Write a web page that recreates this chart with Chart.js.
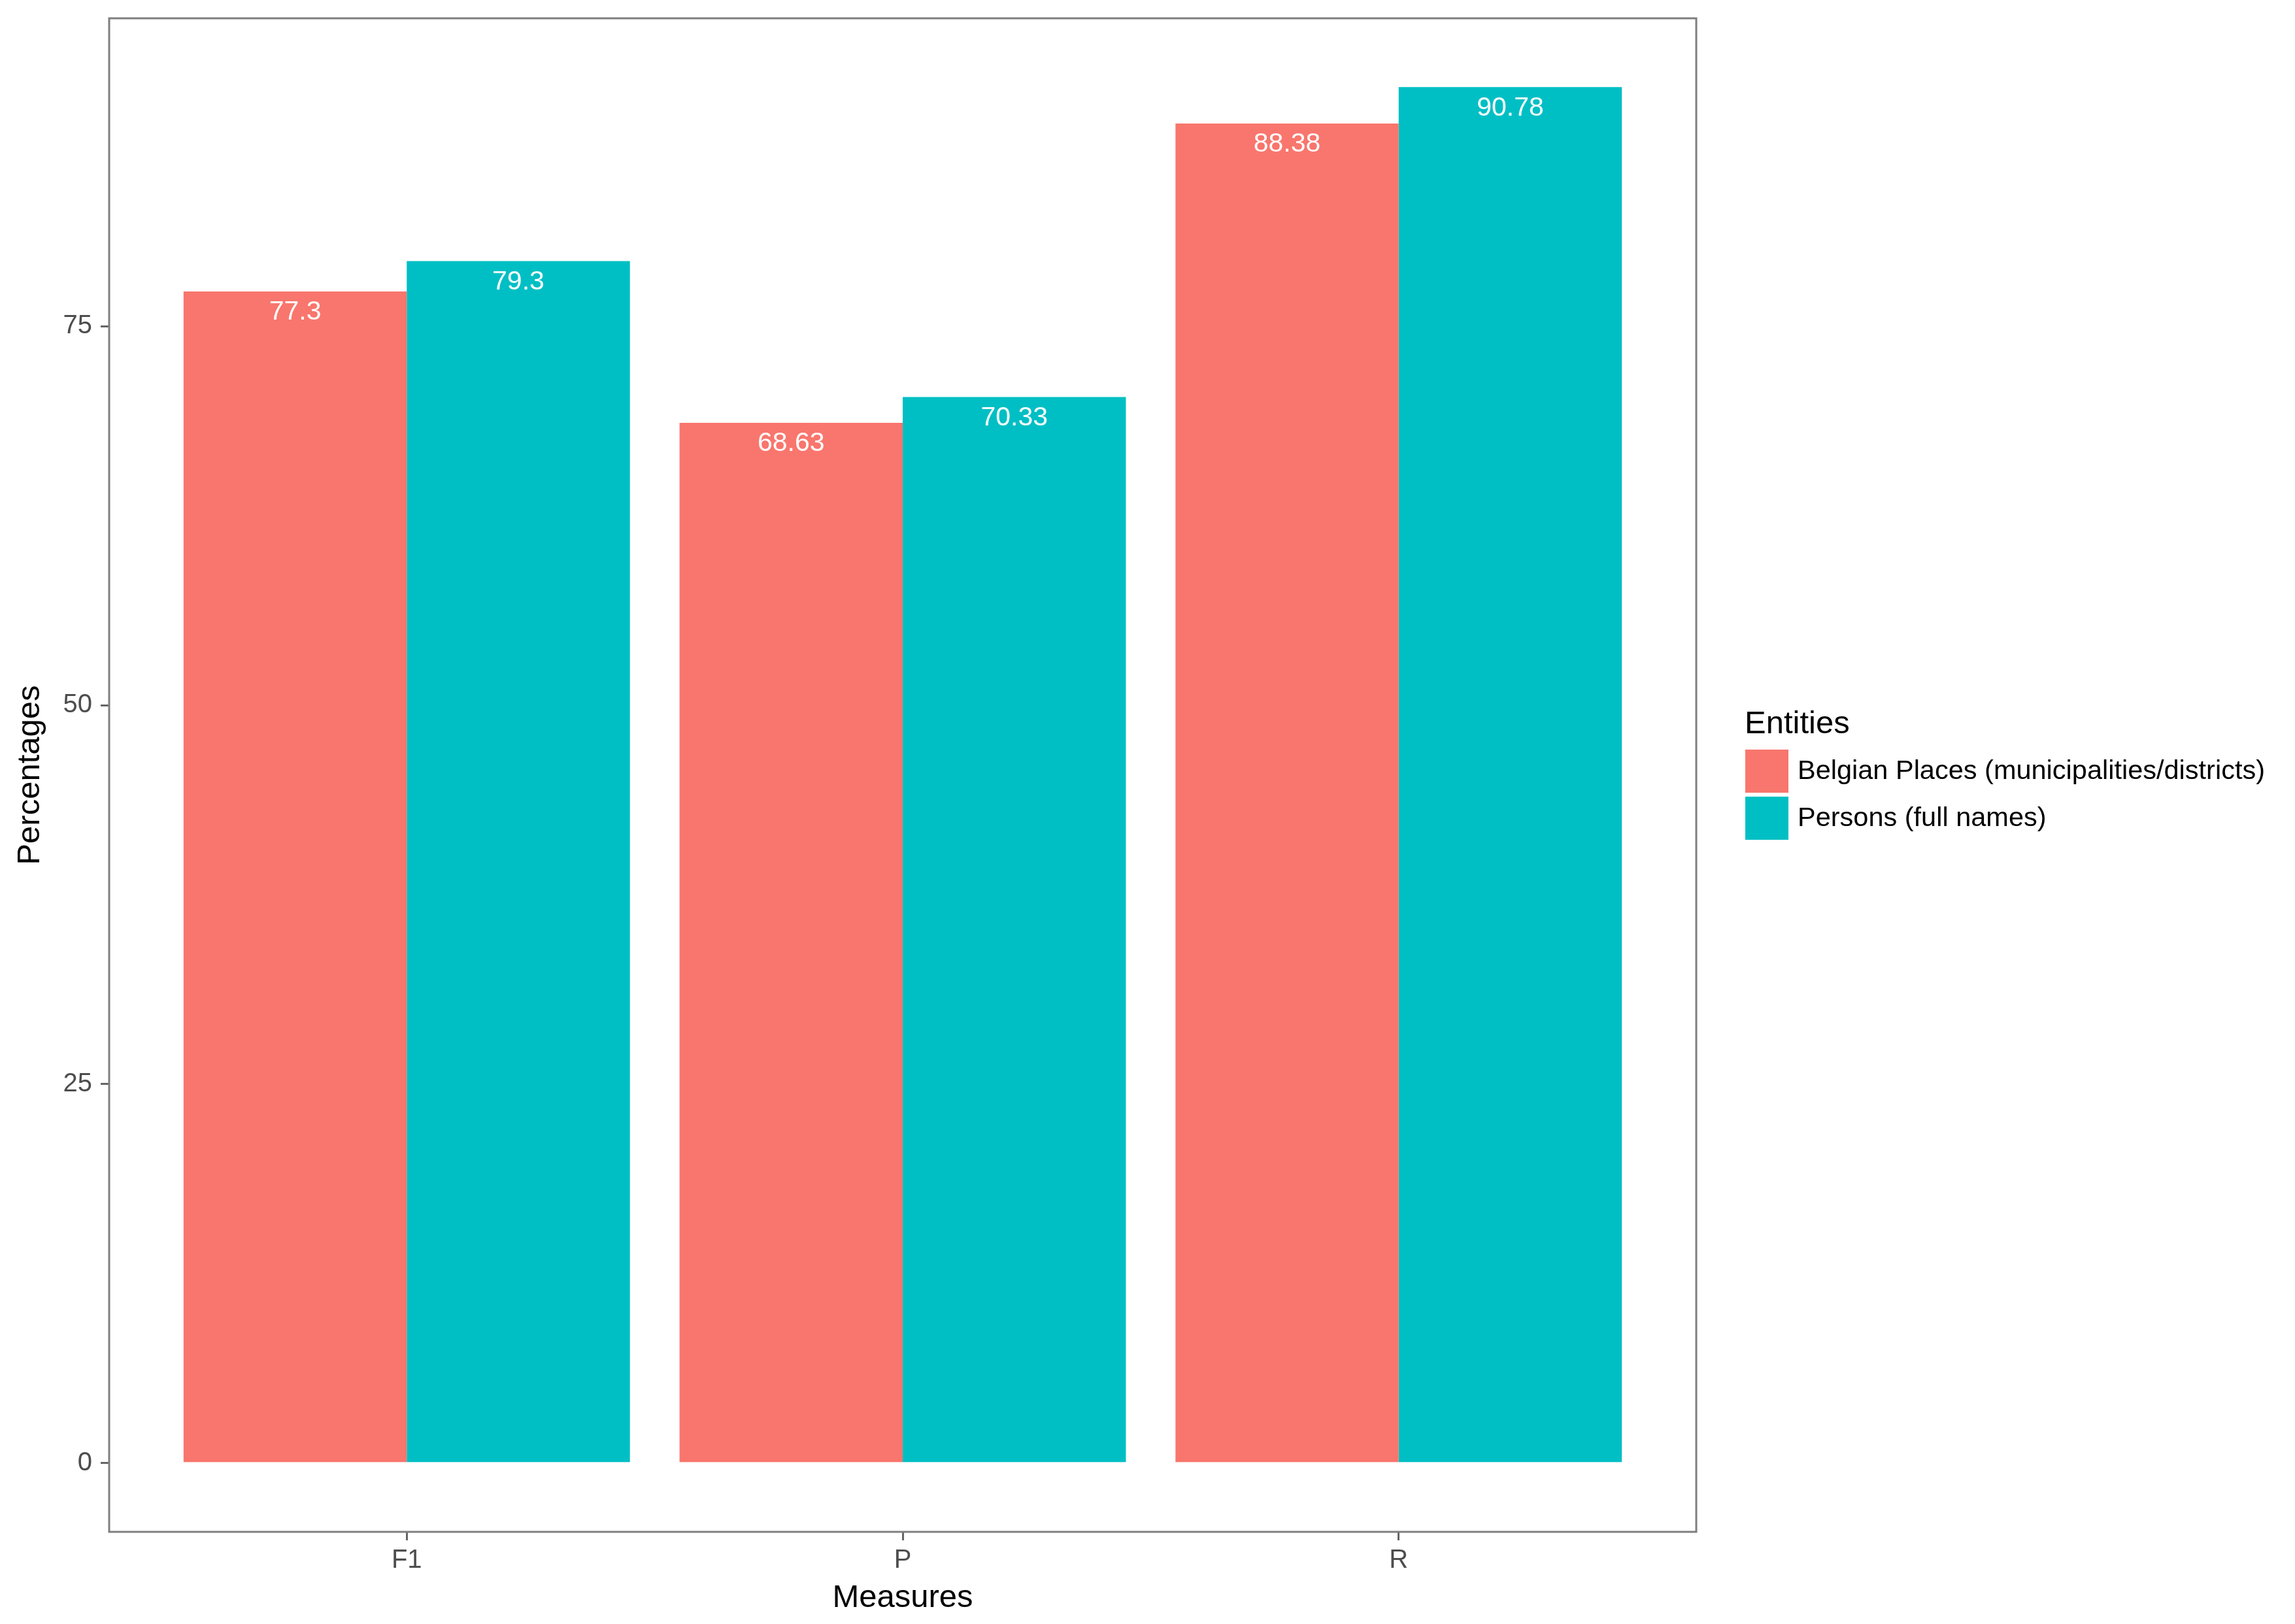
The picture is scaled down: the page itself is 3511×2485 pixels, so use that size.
<!DOCTYPE html>
<html>
<head>
<meta charset="utf-8">
<script src="https://cdn.jsdelivr.net/npm/chart.js@4"></script>
<style>
html, body { margin: 0; padding: 0; background: #fff; }
canvas { display: block; }
</style>
</head>
<body>
<canvas id="chart" width="3511" height="2485"></canvas>
<script>
// DATA
const measures = ["F1", "P", "R"];
const entities = ["Belgian Places (municipalities/districts)", "Persons (full names)"];
const places = [77.3, 68.63, 88.38];
const persons = [79.3, 70.33, 90.78];
const yTicks = [0, 25, 50, 75];
const colors = ["#F8766D", "#00BFC4"];

const series = [places, persons];
const FONT = '"Liberation Sans", Arial, Helvetica, sans-serif';

// ggplot-style 5% expansion of the value range
const maxVal = Math.max(...places, ...persons);
const pad = maxVal * 0.05;

// white value labels just inside the top of each bar
const valueLabels = {
    id: "valueLabels",
    afterDatasetsDraw(chart) {
        const ctx = chart.ctx;
        ctx.save();
        ctx.font = "41px " + FONT;
        ctx.fillStyle = "#ffffff";
        ctx.textAlign = "center";
        ctx.textBaseline = "middle";
        series.forEach((vals, i) => {
            chart.getDatasetMeta(i).data.forEach((bar, j) => {
                ctx.fillText(String(vals[j]), bar.x, bar.y + 32);
            });
        });
        ctx.restore();
    }
};

// grey panel border
const panelBorder = {
    id: "panelBorder",
    afterDraw(chart) {
        const a = chart.chartArea;
        const ctx = chart.ctx;
        ctx.save();
        ctx.strokeStyle = "#7F7F7F";
        ctx.lineWidth = 3;
        ctx.strokeRect(a.left, a.top, a.right - a.left, a.bottom - a.top);
        ctx.restore();
    }
};

// legend on the right, ggplot look
const sideLegend = {
    id: "sideLegend",
    afterDraw(chart) {
        const ctx = chart.ctx;
        const x0 = chart.chartArea.right + 74;
        const yMid = (chart.chartArea.top + chart.chartArea.bottom) / 2;
        const key = 66, gap = 6;
        ctx.save();
        ctx.fillStyle = "#000";
        ctx.textAlign = "left";
        ctx.textBaseline = "middle";
        ctx.font = "49px " + FONT;
        ctx.fillText("Entities", x0, yMid - 78);
        ctx.font = "41.5px " + FONT;
        entities.forEach((name, i) => {
            const top = yMid - 39 + i * (key + gap);
            ctx.fillStyle = colors[i];
            ctx.fillRect(x0 + 1, top, key, key);
            ctx.fillStyle = "#000";
            ctx.fillText(name, x0 + 81, top + key / 2 + 1);
        });
        ctx.restore();
    }
};

new Chart(document.getElementById("chart"), {
    type: "bar",
    data: {
        datasets: series.map((vals, i) => ({
            label: entities[i],
            data: vals.map((v, j) => ({ x: j + 1, y: v })),
            backgroundColor: colors[i],
            borderWidth: 0,
            categoryPercentage: 0.9,
            barPercentage: 1.0
        }))
    },
    options: {
        responsive: false,
        animation: false,
        devicePixelRatio: 1,
        layout: { padding: { left: 0, right: 916, top: 28, bottom: 0 } },
        plugins: {
            legend: { display: false },
            tooltip: { enabled: false }
        },
        scales: {
            x: {
                type: "linear",
                min: 0.4,
                max: measures.length + 0.6,
                offset: false,
                border: { display: false },
                grid: { drawOnChartArea: false, offset: false, tickLength: 13, color: "#666", lineWidth: 3 },
                ticks: {
                    autoSkip: false,
                    maxRotation: 0,
                    padding: 7,
                    color: "#4D4D4D",
                    font: { family: FONT, size: 40 },
                    callback: v => measures[v - 1]
                },
                afterBuildTicks: s => { s.ticks = measures.map((m, i) => ({ value: i + 1 })); },
                afterFit: s => { s.height = 141; s.paddingLeft = 0; s.paddingRight = 0; },
                title: {
                    display: true,
                    text: "Measures",
                    color: "#000",
                    font: { family: FONT, size: 49 },
                    padding: { top: 0, bottom: 10 }
                }
            },
            y: {
                min: -pad,
                max: maxVal + pad,
                border: { display: false },
                grid: { drawOnChartArea: false, tickLength: 13, color: "#666", lineWidth: 3 },
                ticks: {
                    padding: 13,
                    color: "#4D4D4D",
                    font: { family: FONT, size: 40 }
                },
                afterBuildTicks: s => { s.ticks = yTicks.map(v => ({ value: v })); },
                afterFit: s => { s.width = 167; s.paddingTop = 0; s.paddingBottom = 0; },
                title: {
                    display: true,
                    text: "Percentages",
                    color: "#000",
                    font: { family: FONT, size: 49 },
                    padding: { top: 17, bottom: 0 }
                }
            }
        }
    },
    plugins: [valueLabels, panelBorder, sideLegend]
});
</script>
</body>
</html>
